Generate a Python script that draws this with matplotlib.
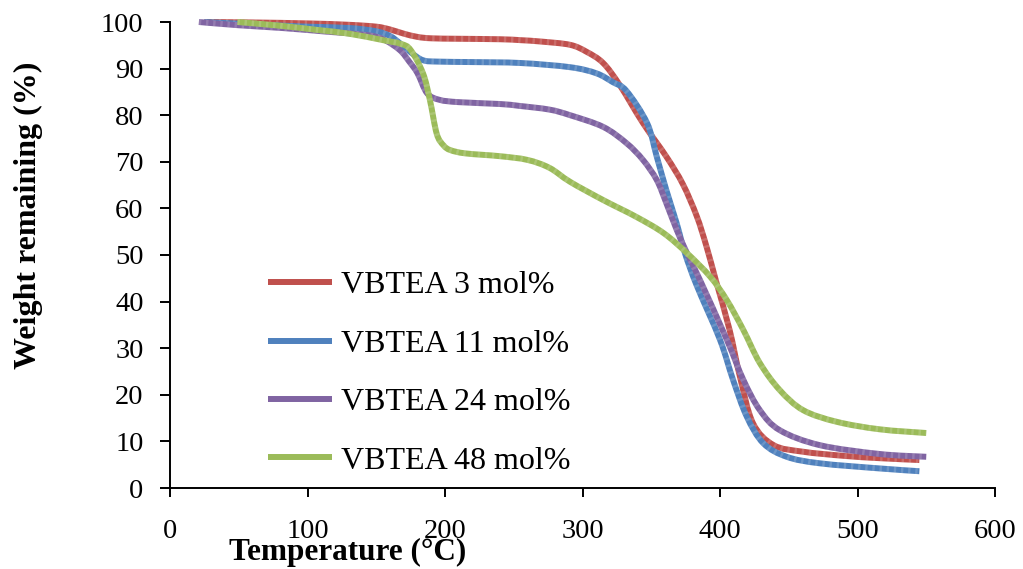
import matplotlib
matplotlib.use('Agg')
import matplotlib.pyplot as plt
import numpy as np
from matplotlib.path import Path
from matplotlib.patches import PathPatch
from matplotlib.lines import Line2D

# ---- data ----
labels = ['VBTEA 3 mol%', 'VBTEA 11 mol%', 'VBTEA 24 mol%', 'VBTEA 48 mol%']
colors = ['#C0504D', '#4F81BD', '#8064A2', '#9BBB59']

T_red = [25, 60, 100, 130, 150, 160, 170, 180, 190, 210, 240, 255, 270, 291, 303, 315, 327, 344,
         361, 373, 383, 390, 397.5, 407, 414.5, 424, 439, 460, 490, 516, 545]
W_red = [100, 99.9, 99.7, 99.4, 99.0, 98.4, 97.5, 96.8, 96.5, 96.4, 96.3, 96.1, 95.8, 95.1, 93.6,
         91.2, 86.5, 78.3, 71.1, 65.2, 58.4, 52.0, 44.0, 33.9, 23.9, 13.9, 9.2, 7.8, 6.9, 6.4, 6.0]

T_blue = [25, 60, 100, 131, 150, 160, 167, 175, 184, 195, 220, 255, 291, 310, 322, 332, 347, 354,
          361, 368.5, 374.5, 383, 400, 409.5, 419.5, 431.5, 448.5, 472.5, 516, 545]
W_blue = [100, 99.5, 99.0, 98.7, 98.0, 97.0, 95.5, 93.5, 91.8, 91.5, 91.4, 91.2, 90.3, 89.0, 87.1,
          85.2, 78.3, 71.1, 63.9, 56.8, 50.4, 43.5, 31.8, 23.2, 15.3, 9.6, 6.7, 5.3, 4.2, 3.6]

T_purple = [21, 50, 82, 115, 143, 155, 167, 174, 180, 187, 196, 210, 240, 254, 276, 291, 315, 332,
            344, 354, 361, 368.5, 376, 385.5, 405, 417, 429, 443.5, 472.5, 516, 550]
W_purple = [100, 99.3, 98.7, 97.9, 97.2, 96.3, 94, 91.5, 89, 84.7, 83.3, 82.8, 82.4, 82.0, 81.2,
            80.0, 77.5, 74.0, 70.4, 66.1, 61.1, 55.4, 50.4, 44.6, 31.8, 23.2, 16.7, 12.4, 9.2,
            7.3, 6.7]

T_green = [49, 80, 107, 130, 155, 168, 175, 184, 189, 194, 199, 204, 215, 240, 260, 276, 291, 315,
           339, 359, 376, 393, 405, 417, 429, 443.5, 460.5, 485, 516, 550]
W_green = [100, 99.2, 98.3, 97.5, 96.1, 95.3, 94, 89, 83.3, 76, 73.5, 72.5, 71.8, 71.2, 70.4, 68.7,
           65.7, 61.8, 58.2, 54.7, 50.4, 45.3, 40.3, 33.9, 26.8, 21.0, 16.7, 14.2, 12.6, 11.8]

x_ticks = [0, 100, 200, 300, 400, 500, 600]
y_ticks = [0, 10, 20, 30, 40, 50, 60, 70, 80, 90, 100]


def smooth_path(x, y):
    """Smoothed (Bezier) path through the data points, like a spreadsheet 'smoothed line'."""
    pts = np.column_stack([x, y]).astype(float)
    n = len(pts)
    verts = [pts[0]]
    codes = [Path.MOVETO]
    for i in range(n - 1):
        p0 = pts[i - 1] if i > 0 else pts[i]
        p1 = pts[i]
        p2 = pts[i + 1]
        p3 = pts[i + 2] if i + 2 < n else pts[i + 1]
        c1 = p1 + (p2 - p0) / 6.0
        c2 = p2 - (p3 - p1) / 6.0
        verts += [c1, c2, p2]
        codes += [Path.CURVE4] * 3
    return Path(verts, codes)


plt.rcParams['font.family'] = ['Liberation Serif', 'DejaVu Serif']

W, H = 1023, 569
fig = plt.figure(figsize=(W / 100, H / 100), dpi=100)
ax = fig.add_axes([170 / W, 1 - 488 / H, (995 - 170) / W, (488 - 22) / H])

series = [(T_red, W_red), (T_blue, W_blue), (T_purple, W_purple), (T_green, W_green)]
for (t, w), c in zip(series, colors):
    p = smooth_path(t, w)
    ax.add_patch(PathPatch(p, fill=False, edgecolor=c, lw=4.3, capstyle='butt',
                           joinstyle='round', clip_on=False, transform=ax.transData))
    ax.add_patch(PathPatch(p, fill=False, edgecolor=(1, 1, 1, 0.16), lw=4.3,
                           linestyle=(0, (0.4, 0.8)), capstyle='butt', clip_on=False,
                           transform=ax.transData))

ax.set_xlim(0, 600)
ax.set_ylim(0, 100)
ax.set_xticks(x_ticks)
ax.set_yticks(y_ticks)
for s in ['top', 'right']:
    ax.spines[s].set_visible(False)
for s in ['left', 'bottom']:
    ax.spines[s].set_linewidth(1.4)
ax.tick_params(axis='x', direction='out', length=6.5, width=1.4, pad=16, labelsize=20.5)
ax.tick_params(axis='y', direction='out', length=7, width=1.4, pad=12, labelsize=20.5)

handles = [Line2D([], [], color=c, lw=4.3, solid_capstyle='butt') for c in colors]
ax.legend(handles, labels, loc='upper left', bbox_to_anchor=(268 / W, 1 - 271 / H),
          bbox_transform=fig.transFigure, frameon=False, fontsize=23, handlelength=2.0,
          handletextpad=0.3, labelspacing=0.91, borderpad=0, borderaxespad=0)

fig.text(348 / W, 1 - 552 / H, 'Temperature (°C)', ha='center', va='center',
         fontsize=22.5, fontweight='bold')
fig.text(28 / W, 1 - 215 / H, 'Weight remaining (%)', rotation=90, ha='center', va='center',
         fontsize=23, fontweight='bold')

fig.savefig('out.png', dpi=100)
